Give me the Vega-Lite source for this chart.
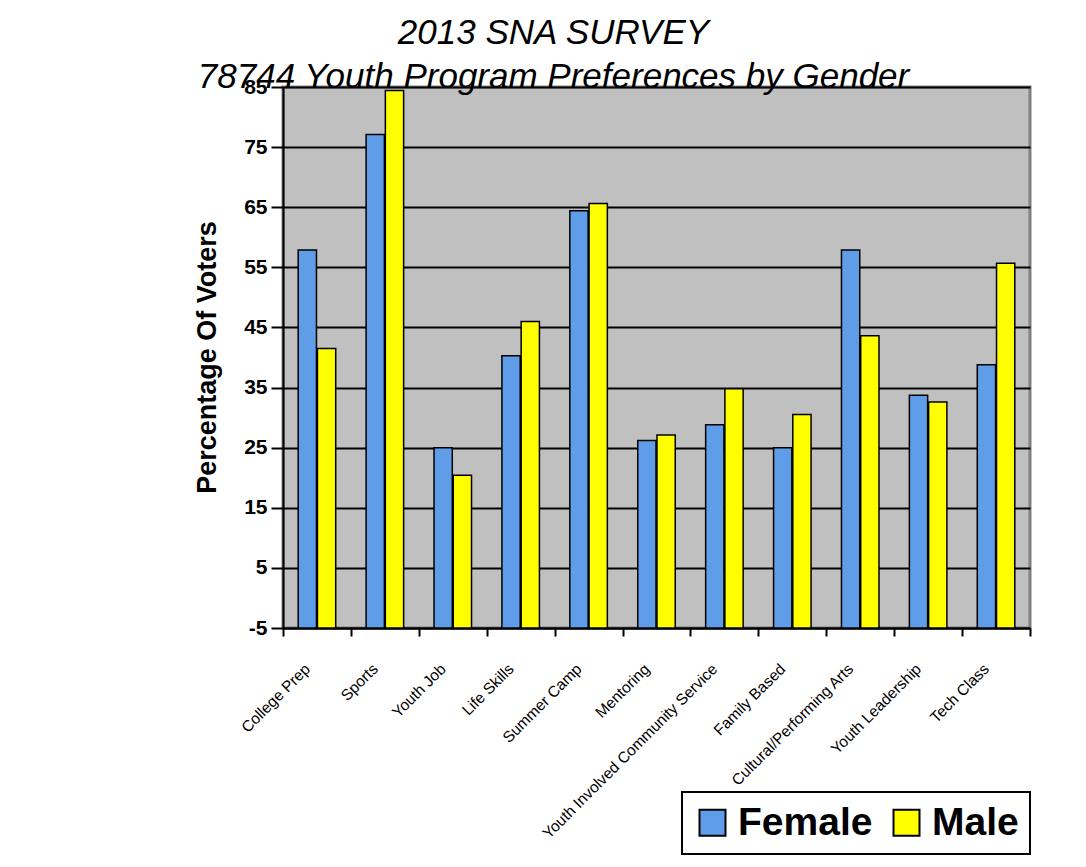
{
  "$schema": "https://vega.github.io/schema/vega-lite/v6.json",
  "autosize": {"type": "none"},
  "width": 747,
  "height": 541,
  "padding": {"left": 283, "top": 87, "right": 56, "bottom": 239},
  "background": "white",
  "title": {
    "text": ["2013 SNA SURVEY", "78744 Youth Program Preferences by Gender"],
    "font": "Liberation Sans",
    "fontSize": 35,
    "fontStyle": "italic",
    "fontWeight": "normal",
    "color": "black",
    "lineHeight": 44,
    "anchor": "middle",
    "frame": "group",
    "dx": -103,
    "offset": -19
  },
  "config": {
    "view": {"fill": "#c0c0c0", "stroke": "#808080", "strokeWidth": 3},
    "font": "Liberation Sans"
  },
  "data": {
    "values": [
      {"program": "College Prep", "gender": "Female", "value": 57.9},
      {"program": "College Prep", "gender": "Male", "value": 41.5},
      {"program": "Sports", "gender": "Female", "value": 77.1},
      {"program": "Sports", "gender": "Male", "value": 84.4},
      {"program": "Youth Job", "gender": "Female", "value": 25.0},
      {"program": "Youth Job", "gender": "Male", "value": 20.4},
      {"program": "Life Skills", "gender": "Female", "value": 40.3},
      {"program": "Life Skills", "gender": "Male", "value": 46.0},
      {"program": "Summer Camp", "gender": "Female", "value": 64.4},
      {"program": "Summer Camp", "gender": "Male", "value": 65.6},
      {"program": "Mentoring", "gender": "Female", "value": 26.2},
      {"program": "Mentoring", "gender": "Male", "value": 27.1},
      {"program": "Youth Involved Community Service", "gender": "Female", "value": 28.8},
      {"program": "Youth Involved Community Service", "gender": "Male", "value": 34.8},
      {"program": "Family Based", "gender": "Female", "value": 25.0},
      {"program": "Family Based", "gender": "Male", "value": 30.5},
      {"program": "Cultural/Performing Arts", "gender": "Female", "value": 57.9},
      {"program": "Cultural/Performing Arts", "gender": "Male", "value": 43.6},
      {"program": "Youth Leadership", "gender": "Female", "value": 33.7},
      {"program": "Youth Leadership", "gender": "Male", "value": 32.6},
      {"program": "Tech Class", "gender": "Female", "value": 38.8},
      {"program": "Tech Class", "gender": "Male", "value": 55.7}
    ]
  },
  "mark": {"type": "bar", "stroke": "black", "strokeWidth": 1.5},
  "encoding": {
    "x": {
      "field": "program",
      "type": "nominal",
      "sort": null,
      "scale": {"paddingInner": 0, "paddingOuter": 0},
      "axis": {
        "title": null,
        "domainColor": "black",
        "domainWidth": 2,
        "tickColor": "black",
        "tickWidth": 2,
        "tickSize": 8,
        "tickBand": "extent",
        "labelAngle": -45,
        "labelAlign": "right",
        "labelBaseline": "middle",
        "labelFontSize": 15.5,
        "labelColor": "black",
        "labelPadding": 30,
        "labelOffset": -10,
        "labelLimit": 400,
        "grid": false
      }
    },
    "xOffset": {
      "field": "gender",
      "type": "nominal",
      "scale": {"paddingInner": 0.05, "paddingOuter": 0.79}
    },
    "y": {
      "field": "value",
      "type": "quantitative",
      "scale": {"domain": [-5, 85], "nice": false, "zero": false},
      "axis": {
        "title": "Percentage Of Voters",
        "titleFontSize": 27,
        "titleFontWeight": "bold",
        "titleColor": "black",
        "titleX": -76,
        "titleY": 270,
        "titleAngle": -90,
        "titleAlign": "center",
        "titleBaseline": "middle",
        "values": [-5, 5, 15, 25, 35, 45, 55, 65, 75, 85],
        "labelExpr": "'' + datum.value",
        "labelFontSize": 21,
        "labelFontWeight": "bold",
        "labelColor": "black",
        "labelPadding": 4,
        "tickColor": "black",
        "tickWidth": 2,
        "tickSize": 12,
        "domainColor": "black",
        "domainWidth": 2,
        "gridColor": "black",
        "gridWidth": 2,
        "gridOpacity": 1
      }
    },
    "y2": {"datum": -5},
    "color": {
      "field": "gender",
      "type": "nominal",
      "scale": {"domain": ["Female", "Male"], "range": ["#5f9de8", "#ffff00"]},
      "legend": {
        "title": null,
        "orient": "none",
        "legendX": 399,
        "legendY": 705,
        "direction": "horizontal",
        "strokeColor": "black",
        "fillColor": "white",
        "padding": 11,
        "symbolType": "square",
        "symbolSize": 676,
        "symbolStrokeColor": "black",
        "symbolStrokeWidth": 2,
        "symbolOpacity": 1,
        "labelFontSize": 39,
        "labelFontWeight": "bold",
        "labelColor": "black",
        "labelLimit": 300,
        "columnPadding": 14,
        "labelOffset": 6,
        "encode": {"legend": {"update": {"strokeWidth": {"value": 2}}}}
      }
    }
  }
}
